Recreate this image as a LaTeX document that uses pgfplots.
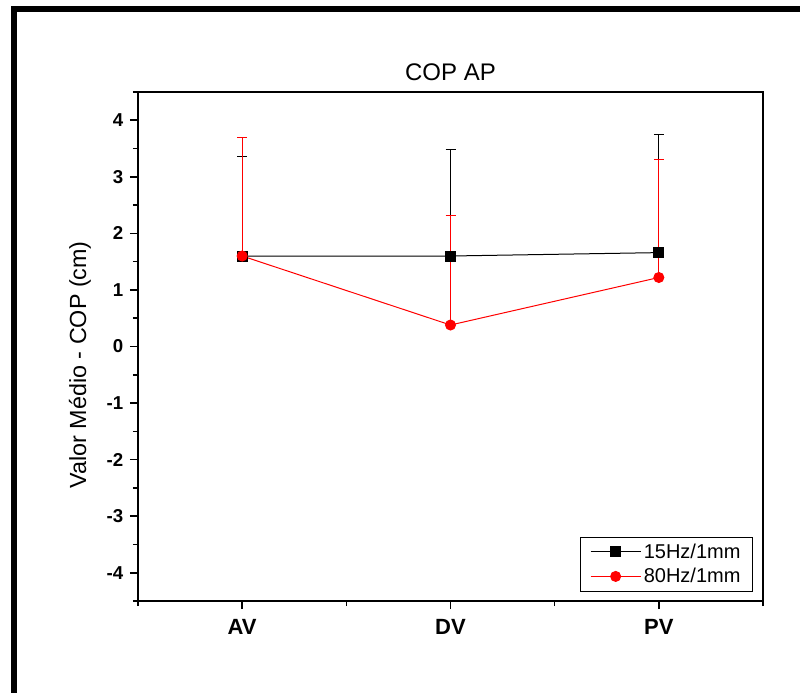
\documentclass[border=0pt]{standalone}
\usepackage{pgfplots}
\pgfplotsset{compat=1.18}
\usepackage{fontspec}
\setmainfont{Liberation Sans}

\begin{document}
\begin{tikzpicture}
\path[use as bounding box] (0,0) rectangle (600pt,519.75pt);
% heavy page frame (left and top edges)
\fill[black] (8.25pt,0) rectangle (12.75pt,515.25pt);
\fill[black] (8.25pt,510.6pt) rectangle (600pt,515.25pt);
\begin{axis}[
  at={(103.5pt,69pt)}, anchor=south west,
  scale only axis, width=468.75pt, height=381.75pt,
  xmin=-0.5, xmax=2.5, ymin=-4.5, ymax=4.5,
  xtick={0,1,2}, xticklabels={AV,DV,PV},
  minor xtick={-0.5,0.5,1.5,2.5},
  ytick={-4,-3,-2,-1,0,1,2,3,4},
  yticklabels={-4,-3,-2,-1,0,1,2,3,4},
  minor ytick={-4.5,-3.5,-2.5,-1.5,-0.5,0.5,1.5,2.5,3.5,4.5},
  tick align=outside, tick pos=left,
  major tick length=6pt, minor tick length=3.75pt,
  tick style={black, line width=1.2pt},
  axis line style={line width=1.5pt},
  xticklabel style={font=\bfseries\fontsize{16.5}{19}\selectfont, yshift=-4pt},
  yticklabel style={font=\bfseries\fontsize{14}{16}\selectfont, xshift=-1.5pt},
  title={COP AP},
  title style={font=\fontsize{18}{21}\selectfont, at={(0.5,1)}, anchor=base, yshift=2.5pt},
  ylabel={Valor Médio - COP (cm)},
  ylabel style={font=\fontsize{17.5}{20}\selectfont, at={(axis description cs:-0.0928,0.464)}, anchor=center},
  legend style={at={(0.984,0.018)}, anchor=south east, draw=black, line width=0.75pt,
    font=\fontsize{15}{18}\selectfont, inner xsep=7pt, inner ysep=3pt, row sep=2pt},
  legend cell align=left,
  legend image code/.code={%
    \draw[#1, mark repeat=2, mark phase=2] plot coordinates {(0pt,0pt) (18.75pt,0pt) (37.5pt,0pt)};},
  error bars/error bar style={line width=0.75pt},
  error bars/error mark options={rotate=90, mark size=3.75pt, line width=0.75pt},
]
% 15Hz/1mm
\addplot[black, line width=0.75pt, mark=square*, mark size=3.75pt,
  error bars/.cd, y dir=plus, y explicit]
  coordinates {(0,1.60) +- (0,1.76) (1,1.60) +- (0,1.88) (2,1.66) +- (0,2.09)};
\addlegendentry{15Hz/1mm}
% 80Hz/1mm
\addplot[red, line width=0.75pt, mark=*, mark size=3.75pt,
  error bars/.cd, y dir=plus, y explicit]
  coordinates {(0,1.60) +- (0,2.09) (1,0.38) +- (0,1.93) (2,1.22) +- (0,2.08)};
\addlegendentry{80Hz/1mm}
\end{axis}
\end{tikzpicture}
\end{document}
